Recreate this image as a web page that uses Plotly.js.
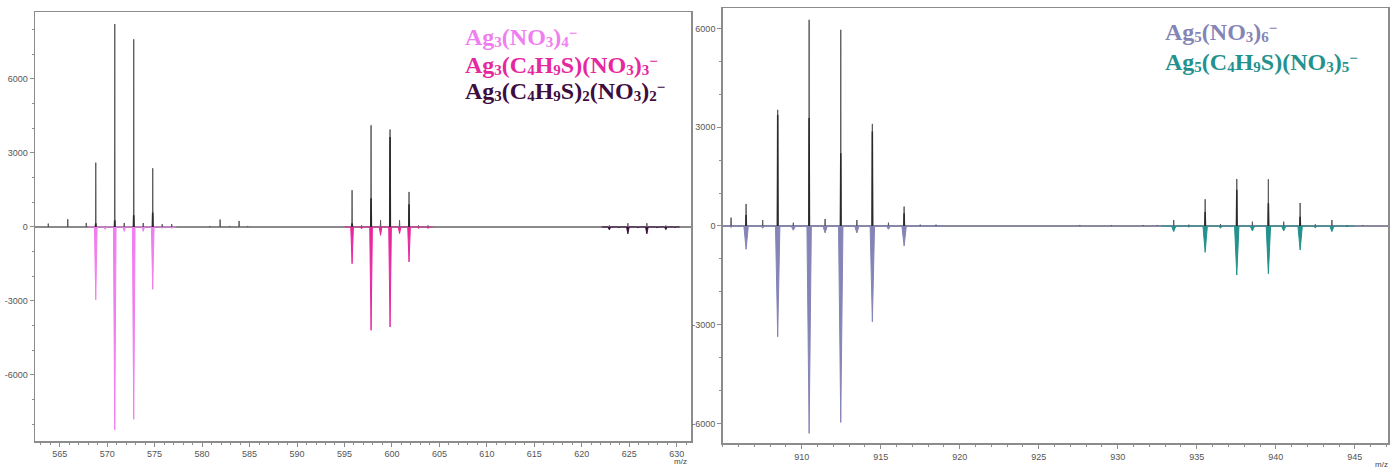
<!DOCTYPE html>
<html><head><meta charset="utf-8">
<script src="https://cdn.plot.ly/plotly-3.0.1.min.js"></script>
<style>html,body{margin:0;padding:0;background:#fff}#chart{width:1391px;height:471px}</style>
</head><body><div id="chart"></div>
<script>
// ---------- Left panel (Ag3 clusters) ----------
const leftExpMz  = [563.8, 565.85, 567.8, 568.8, 570.8, 571.8, 572.8, 573.8, 574.8, 575.8, 576.8, 580.8, 581.9, 582.9, 583.9, 584.8, 595.8, 596.8, 597.8, 598.8, 599.8, 600.8, 601.8, 602.8, 603.8, 622.9, 623.9, 624.85, 625.9, 626.85, 627.9, 628.85, 629.8];
const leftExpInt = [135, 311, 162, 2606, 8229, 160, 7608, 160, 2379, 110, 110, 40, 300, 40, 243, 40, 1490, 60, 4120, 270, 3950, 270, 1420, 60, 60, 60, 30, 150, 30, 150, 30, 60, 20];
const leftExpCore= [0, 0, 0, 150, 270, 0, 470, 0, 580, 0, 0, 0, 0, 0, 0, 0, 150, 0, 1160, 0, 3650, 0, 920, 0, 0, 0, 0, 0, 0, 0, 0, 0, 0];

const simAMz  = [568.8, 569.8, 570.8, 571.8, 572.8, 573.8, 574.8, 575.8, 576.8];   // Ag3(NO3)4-
const simAInt = [2950, 100, 8230, 180, 7800, 180, 2530, 60, 60];
const simBMz  = [595.8, 596.8, 597.8, 598.8, 599.8, 600.8, 601.8, 602.8, 603.8];   // Ag3(C4H9S)(NO3)3-
const simBInt = [1490, 80, 4190, 340, 4055, 270, 1420, 60, 60];
const simCMz  = [622.9, 623.9, 624.85, 625.9, 626.85, 627.9, 628.85, 629.8];        // Ag3(C4H9S)2(NO3)2-
const simCInt = [120, 30, 280, 30, 280, 30, 110, 20];

// ---------- Right panel (Ag5 clusters) ----------
const rightExpMz  = [905.53, 906.48, 907.53, 908.48, 909.47, 910.47, 911.48, 912.47, 913.49, 914.47, 915.49, 916.48, 917.5, 918.5, 927.6, 929.6, 931.6, 932.5, 933.54, 934.5, 935.53, 936.5, 937.53, 938.52, 939.53, 940.5, 941.54, 942.5, 943.55, 944.5, 945.5];
const rightExpInt = [253, 669, 180, 3527, 100, 6262, 213, 5958, 182, 3100, 100, 588, 40, 40, 30, 30, 30, 30, 182, 40, 810, 60, 1428, 130, 1418, 130, 699, 50, 182, 30, 30];
const rightExpCore= [0, 330, 0, 3370, 0, 3280, 0, 2209, 0, 2870, 0, 385, 0, 0, 0, 0, 0, 0, 0, 0, 425, 0, 1100, 0, 690, 0, 280, 0, 0, 0, 0];

const simDMz  = [905.53, 906.48, 907.53, 908.48, 909.47, 910.47, 911.48, 912.47, 913.49, 914.47, 915.49, 916.48, 917.5, 918.5];  // Ag5(NO3)6-
const simDInt = [40, 708, 60, 3365, 130, 6300, 210, 5967, 210, 2909, 100, 608, 20, 20];
const simEMz  = [933.54, 934.5, 935.53, 936.5, 937.53, 938.52, 939.53, 940.5, 941.54, 942.5, 943.55, 944.5];  // Ag5(C4H9S)(NO3)5-
const simEInt = [170, 30, 800, 60, 1490, 150, 1450, 150, 730, 50, 170, 20];

const leftTicksX  = [565, 570, 575, 580, 585, 590, 595, 600, 605, 610, 615, 620, 625, 630];
const leftTicksY  = [-6000, -3000, 0, 3000, 6000];
const rightTicksX = [910, 915, 920, 925, 930, 935, 940, 945];
const rightTicksY = [-6000, -3000, 0, 3000, 6000];

// chemical formula pieces: [text, isSubscript]
const formulas = {
  a: [['Ag',0],['3',1],['(NO',0],['3',1],[')',0],['4',1]],
  b: [['Ag',0],['3',1],['(C',0],['4',1],['H',0],['9',1],['S)(NO',0],['3',1],[')',0],['3',1]],
  c: [['Ag',0],['3',1],['(C',0],['4',1],['H',0],['9',1],['S)',0],['2',1],['(NO',0],['3',1],[')',0],['2',1]],
  d: [['Ag',0],['5',1],['(NO',0],['3',1],[')',0],['6',1]],
  e: [['Ag',0],['5',1],['(C',0],['4',1],['H',0],['9',1],['S)(NO',0],['3',1],[')',0],['5',1]]
};
const colors = {a:'#f07ef0', b:'#e6289f', c:'#3c0d3e', d:'#8584b6', e:'#23918d'};

function formulaHtml(parts) {
  return '<b>' + parts.map(p => p[1]
      ? '<span style="font-size:15px;baseline-shift:-2px">' + p[0] + '</span>'
      : p[0]).join('') +
    '<span style="font-size:15px;baseline-shift:7px">−</span></b>';
}

// ---------- builders ----------
function sticks(mz, h, w) {
  const x = [], y = [];
  mz.forEach((m, i) => { if (h[i] > 0) { x.push(m - w, m, m + w, null); y.push(0, h[i], 0, null); } });
  return {x, y};
}
function profile(mz, h, w, padL, padR) {
  const x = [mz[0] - padL], y = [0];
  mz.forEach((m, i) => { x.push(m - w, m, m + w); y.push(0, -h[i], 0); });
  x.push(mz[mz.length - 1] + padR); y.push(0);
  return {x, y};
}
function simTrace(mz, h, w, color, xa, ya) {
  const p = profile(mz, h, w, 0.8, 0.5);
  return {type:'scatter', mode:'lines', x:p.x, y:p.y, xaxis:xa, yaxis:ya, fill:'tozeroy',
          fillcolor:color, line:{color:color, width:1}, hoverinfo:'skip', showlegend:false};
}
function expTrace(mz, h, w, color, width, xa, ya) {
  const s = sticks(mz, h, w);
  return {type:'scatter', mode:'lines', x:s.x, y:s.y, xaxis:xa, yaxis:ya,
          line:{color:color, width:width}, hoverinfo:'skip', showlegend:false, connectgaps:false};
}

const traces = [
  simTrace(simAMz, simAInt, 0.14, colors.a, 'x', 'y'),
  simTrace(simBMz, simBInt, 0.14, colors.b, 'x', 'y'),
  simTrace(simCMz, simCInt, 0.14, colors.c, 'x', 'y'),
  expTrace(leftExpMz, leftExpInt, 0.03, '#5a5a5a', 1, 'x', 'y'),
  expTrace(leftExpMz, leftExpCore, 0.03, '#2a2a2a', 1.6, 'x', 'y'),
  simTrace(simDMz, simDInt, 0.14, colors.d, 'x2', 'y2'),
  simTrace(simEMz, simEInt, 0.14, colors.e, 'x2', 'y2'),
  expTrace(rightExpMz, rightExpInt, 0.02, '#5a5a5a', 1, 'x2', 'y2'),
  expTrace(rightExpMz, rightExpCore, 0.02, '#2a2a2a', 1.5, 'x2', 'y2')
];

const tickFont = {family:'Liberation Sans, Arial, sans-serif', size:9, color:'#555'};
const axisCommon = {showline:true, linecolor:'#8c8c8c', linewidth:1.5, mirror:true,
  ticks:'outside', ticklen:4, tickcolor:'#8c8c8c', showgrid:false, tickfont:tickFont, fixedrange:true};
const hy = v => v.map(t => String(t));

const W = 1391, H = 471;
const legendItems = [
  {key:'a', x:463, y:37},
  {key:'b', x:463, y:65},
  {key:'c', x:463, y:91},
  {key:'d', x:1163, y:32},
  {key:'e', x:1163, y:62}
];
const layout = {
  width:W, height:H, margin:{l:0, r:0, t:0, b:0}, paper_bgcolor:'#fff', plot_bgcolor:'#fff', showlegend:false,
  xaxis: Object.assign({}, axisCommon, {domain:[35/W, 691/W], range:[562.4, 631.5], anchor:'y',
    tickvals:leftTicksX, ticktext:hy(leftTicksX), zeroline:false,
    minor:{dtick:1, tick0:0, ticks:'outside', ticklen:2, tickcolor:'#8c8c8c'}}),
  yaxis: Object.assign({}, axisCommon, {domain:[(H-441)/H, (H-12)/H], range:[-8680, 8715], anchor:'x',
    tickvals:leftTicksY, ticktext:hy(leftTicksY), zeroline:true, zerolinecolor:'#8a8a8a', zerolinewidth:2,
    minor:{dtick:1000, tick0:0, ticks:'outside', ticklen:2, tickcolor:'#8c8c8c'}}),
  xaxis2: Object.assign({}, axisCommon, {domain:[722.7/W, 1388/W], range:[905.0, 947.1], anchor:'y2',
    tickvals:rightTicksX, ticktext:hy(rightTicksX), zeroline:false,
    minor:{dtick:1, tick0:0, ticks:'outside', ticklen:2, tickcolor:'#8c8c8c'}}),
  yaxis2: Object.assign({}, axisCommon, {domain:[(H-443.3)/H, (H-8)/H], range:[-6600, 6620], anchor:'x2',
    tickvals:rightTicksY, ticktext:hy(rightTicksY), zeroline:true, zerolinecolor:'#8a8a9e', zerolinewidth:1.5,
    minor:{dtick:1000, tick0:0, ticks:'outside', ticklen:2, tickcolor:'#8c8c8c'}}),
  annotations: legendItems.map(a => ({xref:'paper', yref:'paper', x:a.x/W, y:1 - a.y/H,
      xanchor:'left', yanchor:'middle', showarrow:false, text:formulaHtml(formulas[a.key]),
      font:{family:'Liberation Serif, Times New Roman, serif', size:24, color:colors[a.key]}}))
    .concat([
      {xref:'paper', yref:'paper', x:680/W, y:1 - 461/H, xanchor:'center', yanchor:'middle', showarrow:false,
       text:'m/z', font:{family:'Liberation Sans, Arial, sans-serif', size:8, color:'#444'}},
      {xref:'paper', yref:'paper', x:1381/W, y:1 - 464/H, xanchor:'center', yanchor:'middle', showarrow:false,
       text:'m/z', font:{family:'Liberation Sans, Arial, sans-serif', size:8, color:'#444'}}
    ])
};

Plotly.newPlot('chart', traces, layout, {staticPlot:true, displayModeBar:false});
</script>
</body></html>
